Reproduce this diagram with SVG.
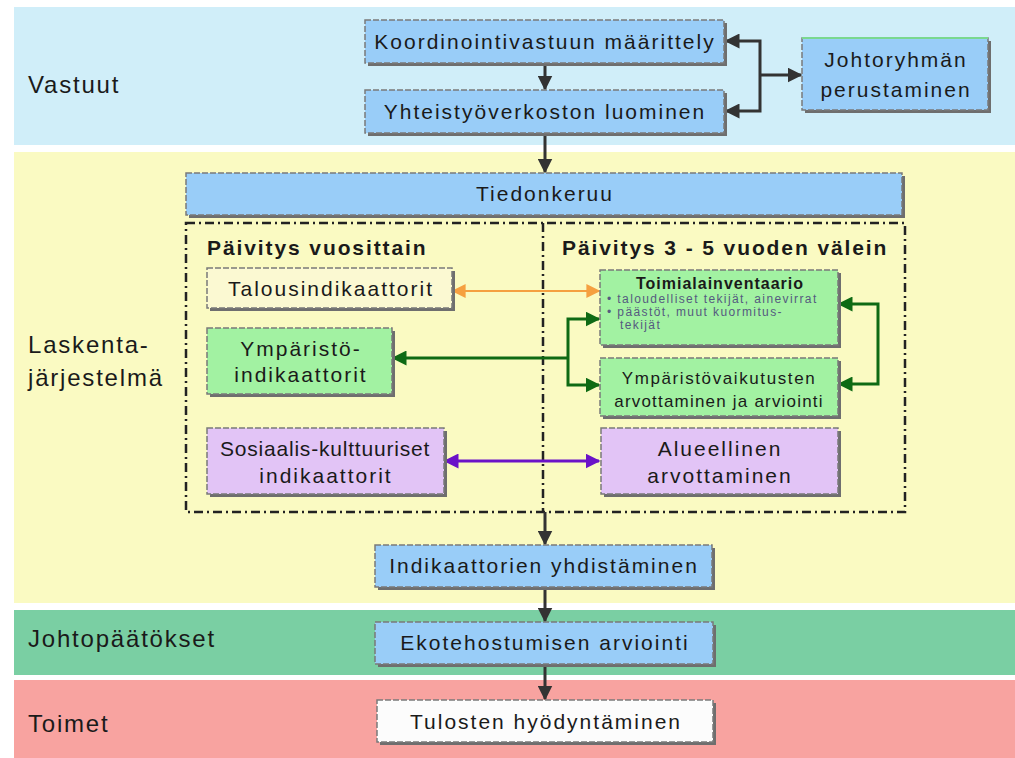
<svg xmlns="http://www.w3.org/2000/svg" width="1015" height="758" viewBox="0 0 1015 758">
  <style>
    text { font-family: "Liberation Sans", Arial, sans-serif; fill: #1a1a1a; }
    .band-label { font-size: 24px; letter-spacing: 1.8px; }
    .node-text { font-size: 21px; letter-spacing: 2px; text-anchor: middle; }
    .head { font-size: 21px; font-weight: bold; letter-spacing: 1.9px; }
    .bullet { font-size: 12px; letter-spacing: 1.4px; fill: #555a80; }
    .shadow { fill: #6e6e6e; }
    .box { stroke: #7a7a7a; stroke-width: 1.5; stroke-dasharray: 6 2; }
    .blue { fill: #99cdf8; }
    .green { fill: #a2f2a2; }
    .cream { fill: #fbf9d2; }
    .purple { fill: #e2c4f6; }
    .white { fill: #fcfcfc; }
    .conn { fill: none; stroke: #333; stroke-width: 3; }
  </style>
  <defs>
    <marker id="ah-dark" viewBox="0 0 10 10" refX="9" refY="5" markerWidth="5" markerHeight="5" orient="auto-start-reverse">
      <path d="M0,0 L10,5 L0,10 z" fill="#333"/>
    </marker>
    <marker id="ah-green" viewBox="0 0 10 10" refX="9" refY="5" markerWidth="5" markerHeight="5" orient="auto-start-reverse">
      <path d="M0,0 L10,5 L0,10 z" fill="#0e6a14"/>
    </marker>
    <marker id="ah-orange" viewBox="0 0 10 10" refX="9" refY="5" markerWidth="7" markerHeight="7" orient="auto-start-reverse">
      <path d="M0,0 L10,5 L0,10 z" fill="#f5a040"/>
    </marker>
    <marker id="ah-purple" viewBox="0 0 10 10" refX="9" refY="5" markerWidth="5" markerHeight="5" orient="auto-start-reverse">
      <path d="M0,0 L10,5 L0,10 z" fill="#6a12c8"/>
    </marker>
  </defs>

  <rect width="1015" height="758" fill="#ffffff"/>

  <!-- Bands -->
  <g id="bands">
    <rect x="14" y="7" width="1001" height="138" fill="#d0eef9"/>
    <rect x="14" y="152" width="1001" height="451" fill="#fafac2"/>
    <rect x="14" y="610" width="1001" height="65" fill="#7acfa3"/>
    <rect x="14" y="680" width="1001" height="78" fill="#f8a3a0"/>
    <text class="band-label" x="28" y="93">Vastuut</text>
    <text class="band-label" x="28" y="353">Laskenta-</text>
    <text class="band-label" x="28" y="386">järjestelmä</text>
    <text class="band-label" x="28" y="647">Johtopäätökset</text>
    <text class="band-label" x="28" y="732">Toimet</text>
  </g>

  <!-- Update-interval frame -->
  <g id="update-frame">
    <rect x="186" y="223" width="719" height="289" fill="none" stroke="#222" stroke-width="2.5" stroke-dasharray="9 4 2 4"/>
    <line x1="543" y1="223" x2="543" y2="512" stroke="#222" stroke-width="2.5" stroke-dasharray="9 4 2 4"/>
    <text class="head" x="207" y="255">Päivitys vuosittain</text>
    <text class="head" x="562" y="255">Päivitys 3 - 5 vuoden välein</text>
  </g>

  <!-- Connectors -->
  <g id="connectors">
    <line class="conn" x1="545" y1="63" x2="545" y2="89" marker-end="url(#ah-dark)"/>
    <path class="conn" d="M726,41 H760 V111 H726" marker-start="url(#ah-dark)" marker-end="url(#ah-dark)"/>
    <line class="conn" x1="760" y1="75" x2="801" y2="75" marker-end="url(#ah-dark)"/>
    <line class="conn" x1="545" y1="133" x2="545" y2="172" marker-end="url(#ah-dark)"/>
    <line x1="453" y1="291" x2="599" y2="291" stroke="#f5a040" stroke-width="2" marker-start="url(#ah-orange)" marker-end="url(#ah-orange)"/>
    <path d="M599,319 H568 V385 H599" fill="none" stroke="#0e6a14" stroke-width="3" marker-start="url(#ah-green)" marker-end="url(#ah-green)"/>
    <line x1="568" y1="358" x2="393" y2="358" stroke="#0e6a14" stroke-width="3" marker-end="url(#ah-green)"/>
    <path d="M839,304 H878 V384 H839" fill="none" stroke="#0e6a14" stroke-width="3" marker-start="url(#ah-green)" marker-end="url(#ah-green)"/>
    <line x1="445" y1="461" x2="599" y2="461" stroke="#6a12c8" stroke-width="3" marker-start="url(#ah-purple)" marker-end="url(#ah-purple)"/>
    <line class="conn" x1="545" y1="512" x2="545" y2="544" marker-end="url(#ah-dark)"/>
    <line class="conn" x1="545" y1="587" x2="545" y2="621" marker-end="url(#ah-dark)"/>
    <line class="conn" x1="545" y1="664" x2="545" y2="699" marker-end="url(#ah-dark)"/>
  </g>

  <!-- Nodes -->
  <g id="koordinointi">
    <rect class="shadow" x="368" y="23" width="359" height="43"/>
    <rect class="box blue" x="365" y="20" width="359" height="43"/>
    <text class="node-text" x="545" y="49">Koordinointivastuun määrittely</text>
  </g>
  <g id="yhteistyoverkosto">
    <rect class="shadow" x="368" y="93" width="359" height="43"/>
    <rect class="box blue" x="365" y="90" width="359" height="43"/>
    <text class="node-text" x="545" y="119">Yhteistyöverkoston luominen</text>
  </g>
  <g id="johtoryhma">
    <rect class="shadow" x="805" y="41" width="186" height="72"/>
    <rect class="box blue" x="802" y="38" width="186" height="72"/>
    <line x1="802" y1="38" x2="988" y2="38" stroke="#7ad890" stroke-width="2"/>
    <text class="node-text" x="896" y="67">Johtoryhmän</text>
    <text class="node-text" x="896" y="97">perustaminen</text>
  </g>
  <g id="tiedonkeruu">
    <rect class="shadow" x="189" y="176" width="716" height="42"/>
    <rect class="box blue" x="186" y="173" width="716" height="42"/>
    <text class="node-text" x="545" y="201">Tiedonkeruu</text>
  </g>
  <g id="talousindikaattorit">
    <rect class="shadow" x="210" y="271" width="245" height="40"/>
    <rect class="box cream" x="207" y="268" width="245" height="40"/>
    <text class="node-text" x="331" y="296">Talousindikaattorit</text>
  </g>
  <g id="ymparisto-indikaattorit">
    <rect class="shadow" x="210" y="331" width="185" height="66"/>
    <rect class="box green" x="207" y="328" width="185" height="66"/>
    <text class="node-text" x="301" y="356">Ympäristö-</text>
    <text class="node-text" x="301" y="382">indikaattorit</text>
  </g>
  <g id="sosiaalis-kulttuuriset">
    <rect class="shadow" x="210" y="431" width="237" height="66"/>
    <rect class="box purple" x="207" y="428" width="237" height="66"/>
    <text class="node-text" x="325" y="456" style="letter-spacing:0.8px">Sosiaalis-kulttuuriset</text>
    <text class="node-text" x="326" y="483">indikaattorit</text>
  </g>
  <g id="toimialainventaario">
    <rect class="shadow" x="603" y="273" width="238" height="75"/>
    <rect class="box green" x="600" y="270" width="238" height="75"/>
    <text x="720" y="289" style="font-size:16px;font-weight:bold;letter-spacing:1px;text-anchor:middle">Toimialainventaario</text>
    <text class="bullet" x="607" y="303">• taloudelliset tekijät, ainevirrat</text>
    <text class="bullet" x="607" y="316">• päästöt, muut kuormitus-</text>
    <text class="bullet" x="620" y="329">tekijät</text>
  </g>
  <g id="ymparistovaikutukset">
    <rect class="shadow" x="603" y="361" width="238" height="58"/>
    <rect class="box green" x="600" y="358" width="238" height="58"/>
    <text class="node-text" x="719" y="384" style="font-size:17px;letter-spacing:1.6px">Ympäristövaikutusten</text>
    <text class="node-text" x="719" y="407" style="font-size:17px;letter-spacing:1.2px">arvottaminen ja arviointi</text>
  </g>
  <g id="alueellinen">
    <rect class="shadow" x="604" y="431" width="237" height="66"/>
    <rect class="box purple" x="601" y="428" width="237" height="66"/>
    <text class="node-text" x="720" y="456">Alueellinen</text>
    <text class="node-text" x="720" y="483">arvottaminen</text>
  </g>
  <g id="indikaattorien-yhdistaminen">
    <rect class="shadow" x="378" y="548" width="337" height="42"/>
    <rect class="box blue" x="375" y="545" width="337" height="42"/>
    <text class="node-text" x="544" y="573">Indikaattorien yhdistäminen</text>
  </g>
  <g id="ekotehokkuus">
    <rect class="shadow" x="378" y="625" width="338" height="42"/>
    <rect class="box blue" x="375" y="622" width="338" height="42"/>
    <text class="node-text" x="545" y="650">Ekotehostumisen arviointi</text>
  </g>
  <g id="tulosten-hyodyntaminen">
    <rect class="shadow" x="380" y="703" width="336" height="42"/>
    <rect class="box white" x="377" y="700" width="336" height="42"/>
    <text class="node-text" x="546" y="729">Tulosten hyödyntäminen</text>
  </g>
</svg>
